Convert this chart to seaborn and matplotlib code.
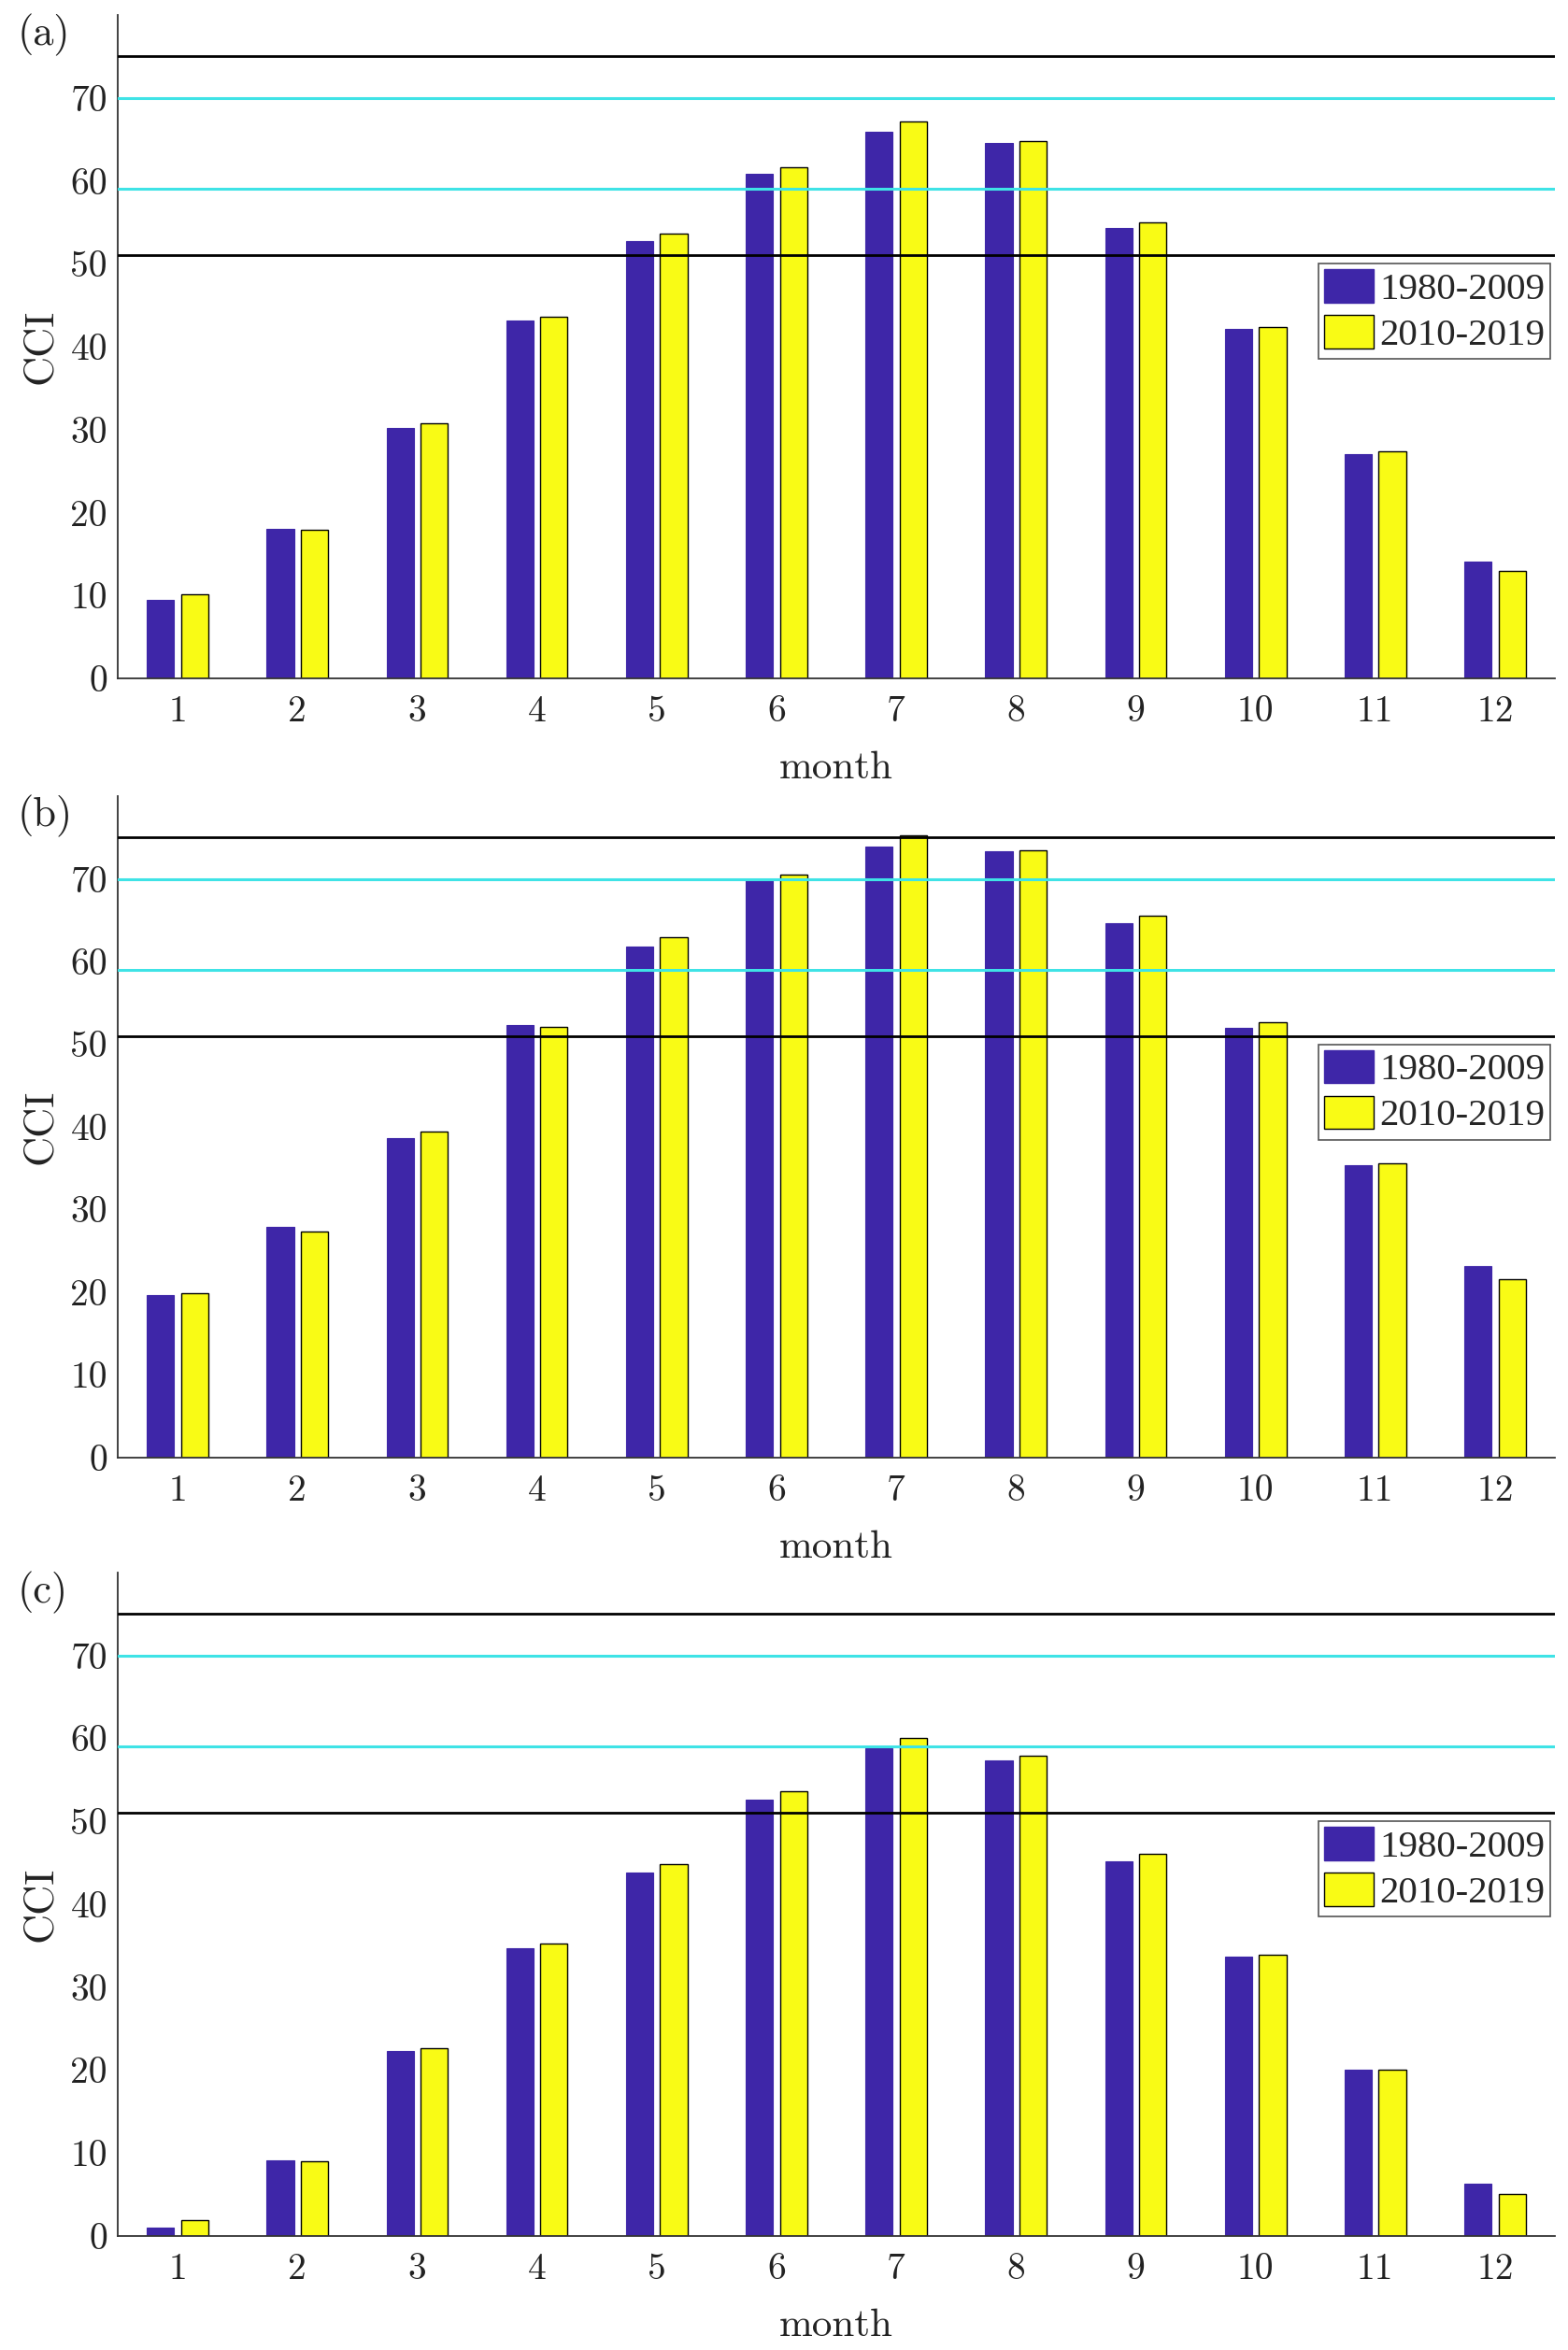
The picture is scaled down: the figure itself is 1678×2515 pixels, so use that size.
import pandas as pd
import matplotlib
matplotlib.use("Agg")
import matplotlib.pyplot as plt
from matplotlib.patches import Patch
import seaborn as sns

# monthly CCI values
months = [str(m) for m in range(1, 13)]
periods = ["1980-2009", "2010-2019"]

a_1980 = [9.5, 18.0, 30.2, 43.2, 52.7, 60.8, 65.9, 64.6, 54.3, 42.1, 27.0, 14.1]
a_2010 = [10.2, 17.9, 30.8, 43.6, 53.6, 61.6, 67.2, 64.8, 55.0, 42.4, 27.4, 13.0]

b_1980 = [19.7, 27.9, 38.7, 52.3, 61.8, 69.9, 73.9, 73.3, 64.6, 52.0, 35.4, 23.2]
b_2010 = [19.9, 27.3, 39.4, 52.1, 62.9, 70.5, 75.3, 73.5, 65.6, 52.7, 35.6, 21.6]

c_1980 = [1.0, 9.1, 22.3, 34.7, 43.8, 52.6, 58.8, 57.3, 45.2, 33.7, 20.1, 6.3]
c_2010 = [1.9, 9.0, 22.6, 35.3, 44.8, 53.6, 60.1, 57.9, 46.1, 33.9, 20.1, 5.1]

panel_labels = ["(a)", "(b)", "(c)"]
black_levels = [51, 75]
cyan_levels = [59, 70]

blue = "#3E26A8"
yellow = "#F9FB15"
cyan = "#3FE3E6"

sns.set_style("white")
plt.rcParams["font.family"] = ["cmr10", "DejaVu Serif"]
plt.rcParams["axes.unicode_minus"] = False

fig = plt.figure(figsize=(16.78, 25.15), dpi=100)

# axes boxes in figure fractions [left, bottom, width, height]
boxes = [
    [0.0751, 0.7113, 0.9166, 0.2823],
    [0.0751, 0.3797, 0.9166, 0.2815],
    [0.0751, 0.0485, 0.9166, 0.2823],
]

series = [(a_1980, a_2010), (b_1980, b_2010), (c_1980, c_2010)]

for box, (old, new), lab in zip(boxes, series, panel_labels):
    ax = fig.add_axes(box)
    df = pd.DataFrame({
        "month": months * 2,
        "CCI": old + new,
        "period": [periods[0]] * 12 + [periods[1]] * 12,
    })
    sns.barplot(data=df, x="month", y="CCI", hue="period", order=months,
                hue_order=periods, palette=[blue, yellow], width=0.57,
                gap=0.2, saturation=1, legend=False, ax=ax, zorder=2)
    for bar in ax.containers[0]:
        bar.set_edgecolor(blue)
        bar.set_linewidth(0.8)
    for bar in ax.containers[1]:
        bar.set_edgecolor("black")
        bar.set_linewidth(1.0)

    for lv in black_levels:
        ax.axhline(lv, color="black", lw=2.0, zorder=3)
    for lv in cyan_levels:
        ax.axhline(lv, color=cyan, lw=2.2, zorder=3)

    ax.set_xlim(-0.5, 11.5)
    ax.set_ylim(0, 80)
    ax.set_yticks(range(0, 80, 10))
    ax.tick_params(axis="both", direction="in", length=11, width=1.2,
                   colors="#222222", labelsize=28.5, labelcolor="#222222")
    ax.tick_params(axis="x", pad=13, color="#888888")
    ax.tick_params(axis="y", pad=8)
    ax.set_xlabel("month", fontsize=31, labelpad=17, color="#222222")
    ax.set_ylabel("CCI", fontsize=32, labelpad=8, color="#222222")
    sns.despine(ax=ax)
    for sp in ["left", "bottom"]:
        ax.spines[sp].set_color("#333333")
        ax.spines[sp].set_linewidth(1.3)

    handles = [Patch(facecolor=blue, edgecolor=blue),
               Patch(facecolor=yellow, edgecolor="black")]
    leg = ax.legend(handles, periods, loc="upper right",
                    bbox_to_anchor=(0.997, 0.625), fancybox=False,
                    framealpha=1, edgecolor="#555555", borderpad=0.15,
                    handlelength=1.3, handleheight=0.95, handletextpad=0.15,
                    labelspacing=0.2, borderaxespad=0,
                    prop={"family": "Liberation Serif", "size": 29.5})
    leg.get_frame().set_linewidth(1.2)

    ax.text(-0.0696, 1 - 21 / 710, lab, transform=ax.transAxes,
            ha="left", va="center", fontsize=32, color="#222222")

fig.savefig("out.png", dpi=100)
